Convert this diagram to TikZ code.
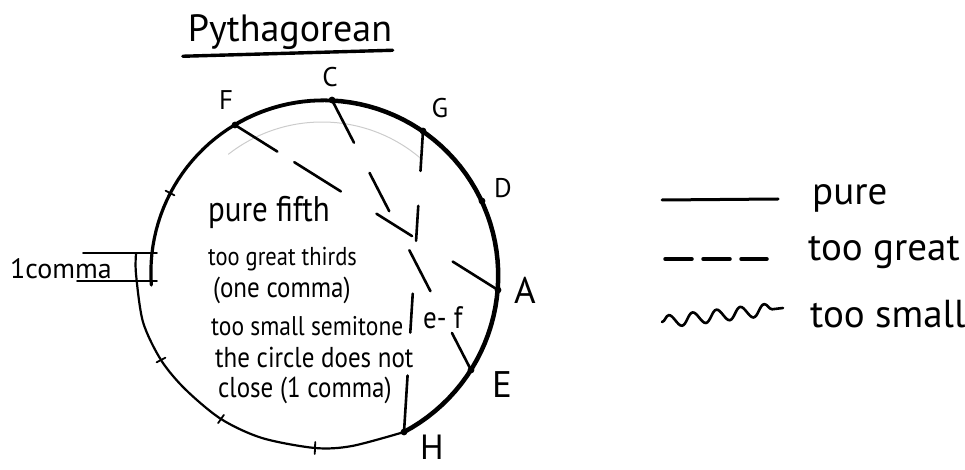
\documentclass[tikz,border=0pt]{standalone}
\usepackage{fontspec}
\setmainfont{PT Sans}
\usetikzlibrary{decorations.pathmorphing}

\tikzset{
  note/.style={anchor=base, inner sep=0pt, font=\fontsize{27}{30}\selectfont},
  bignote/.style={anchor=base, inner sep=0pt, font=\fontsize{37}{40}\selectfont},
  remark/.style={anchor=base west, inner sep=0pt, yscale=1.15, transform shape, font=\fontsize{25}{27}\selectfont},
  legendtext/.style={anchor=base west, inner sep=0pt, font=\fontsize{39}{42}\selectfont},
  third/.style={line width=2.6pt},
  tick/.style={line width=1.8pt},
}

\begin{document}
\begin{tikzpicture}[x=1pt, y=1pt, line cap=round]
    \useasboundingbox (0,0) rectangle (965,-470);

    % Titre
    \node[anchor=base, inner sep=0pt, font=\fontsize{38}{40}\selectfont] (title) at (290,-42) {Pythagorean};
    \draw[line width=3.4pt] (title.south west) ++(-5,-6) -- ++(210,6);

    % Centre et notes du cycle des quintes
    \coordinate (O) at (322,-274);
    \coordinate (F) at (235,-125);
    \coordinate (C) at (332,-100);
    \coordinate (G) at (423,-131);
    \coordinate (D) at (482,-201);
    \coordinate (A) at (498,-290);
    \coordinate (E) at (471,-370);
    \coordinate (H) at (404,-432);
    \coordinate (Fis) at (315,-448);
    \coordinate (Cis) at (221,-419);
    \coordinate (Gis) at (161,-360);
    \coordinate (B) at (170,-193);

    % Spirale (le cercle ne ferme pas)
    \draw[line width=3.2pt, shift={(O)}] plot[domain=183.7:120.3, samples=25] (\x:{171+0.0284*(183.7-\x)});
    \draw[line width=3.8pt, shift={(O)}] plot[domain=120.3:86.7, samples=15] (\x:{171+0.0284*(183.7-\x)});
    \draw[line width=4.5pt, shift={(O)}] plot[domain=86.7:-62.6, samples=50] (\x:{171+0.0284*(183.7-\x)});
    \draw[line width=2.2pt] plot[smooth] coordinates {(H) (352,-446) (Fis) (262,-438) (Cis) (185,-389) (Gis) (143,-322) (136,-274) (136,-254)};
    \draw[gray!40, line width=1pt] (O) ++(128:152) arc[start angle=128, end angle=50, radius=152];

    % Points et traits
    \foreach \p in {F,C,G,D,A,E,H}
        \fill (\p) circle (3.4);
    \draw[tick] (Fis) ++(87.7:6) -- ++(267.7:12);
    \draw[tick] (Cis) ++(55:5) -- ++(235:10);
    \draw[tick] (Gis) ++(28:5) -- ++(208:10);
    \draw[tick] (B) ++(-28:5) -- ++(152:10);

    % Noms des notes
    \node[note] (nF) at (226,-110) {F};
    \node[note] (nC) at (330,-87) {C};
    \node[note] (nG) at (440,-118) {G};
    \node[note] (nD) at (503,-198) {D};
    \node[bignote] (nA) at (525,-303) {A};
    \node[bignote] (nE) at (502,-397) {E};
    \node[bignote, font=\fontsize{35}{38}\selectfont] (nH) at (432,-459) {H};

    % Tierces trop grandes
    \draw[third, dash pattern=on 50pt off 20pt on 55pt off 42pt on 42pt off 48pt on 53pt] (F) -- (A);
    \draw[third, dash pattern=on 48pt off 34pt on 43pt off 44pt on 46pt off 47pt on 45pt] (C) -- (E);
    \draw[third, dash pattern=on 40pt off 35pt on 35pt off 53pt on 39pt off 43pt on 57pt] (G) -- (H);

    % Un comma
    \node[anchor=base west, inner sep=0pt, font=\fontsize{28}{30}\selectfont] (comma) at (10,-278) {1comma};
    \draw[line width=1.8pt] (83,-253) -- (157,-253);
    \draw[line width=1.8pt] (77,-281) -- (157,-281);

    % Texte
    \node[remark, font=\fontsize{31}{33}\selectfont] (fifth) at (208,-222) {pure fifth};
    \node[remark, font=\fontsize{22.5}{25}\selectfont] (thirds) at (208,-265) {too great thirds};
    \node[remark] (onecomma) at (213,-297) {(one comma)};
    \node[remark, font=\fontsize{23.5}{25}\selectfont] (semi) at (211,-335) {too small semitone};
    \node[remark, font=\fontsize{27}{29}\selectfont] (ef) at (423,-328) {e- f};
    \node[remark] (notclose) at (215,-367) {the circle does not};
    \node[remark] (close) at (218,-397) {close (1 comma)};

    % Legende
    \node[legendtext] (pure) at (812,-205) {pure};
    \node[legendtext] (great) at (808,-260) {too great};
    \node[legendtext] (small) at (810,-327) {too small};
    \coordinate (p1) at (662,-200);
    \coordinate (p2) at (778,-199);
    \coordinate (g1) at (665,-259);
    \coordinate (g2) at (767,-259);
    \coordinate (s1) at (662,-322);
    \coordinate (s2) at (783,-308);
    \draw[line width=3pt] (p1) -- (p2);
    \draw[line width=3.5pt, dash pattern=on 27pt off 11pt] (g1) -- (g2);
    \draw[line width=2.6pt, decorate, decoration={snake, segment length=24pt, amplitude=6pt}] (s1) -- (s2);
\end{tikzpicture}
\end{document}
